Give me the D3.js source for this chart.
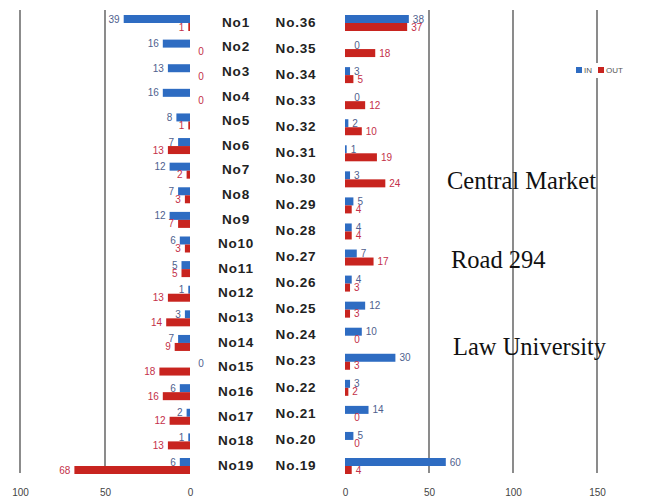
<!DOCTYPE html>
<html>
<head>
<meta charset="utf-8">
<script src="https://cdn.jsdelivr.net/npm/d3@7"></script>
<style>
  html, body { margin: 0; padding: 0; background: #fff; }
  svg { display: block; }
</style>
</head>
<body>
<svg id="chart" width="653" height="502"></svg>
<script>
// ---- data ----
const leftCats = ["No1","No2","No3","No4","No5","No6","No7","No8","No9","No10","No11","No12","No13","No14","No15","No16","No17","No18","No19"];
const leftIn  = [39,16,13,16,8,7,12,7,12,6,5,1,3,7,0,6,2,1,6];
const leftOut = [1,0,0,0,1,13,2,3,7,3,5,13,14,9,18,16,12,13,68];

const rightCats = ["No.36","No.35","No.34","No.33","No.32","No.31","No.30","No.29","No.28","No.27","No.26","No.25","No.24","No.23","No.22","No.21","No.20","No.19"];
const rightIn  = [38,0,3,0,2,1,3,5,4,7,4,12,10,30,3,14,5,60];
const rightOut = [37,18,5,12,10,19,24,4,4,17,3,3,0,3,2,0,0,4];

const leftTicks = [100, 50, 0];
const rightTicks = [0, 50, 100, 150];
const leftGrid = [100, 50];
const rightGrid = [50, 100, 150];

const seriesNames = ["IN", "OUT"];
const annotations = ["Central Market", "Road 294", "Law University"];

// ---- styles ----
const BLUE = "#2e6cc2", RED = "#c8241f";
const BLUE_LBL = "#4f5f8e", RED_LBL = "#c4304a";
const sans = "'Liberation Sans', Arial, sans-serif";

const svg = d3.select("#chart");

const xL = d3.scaleLinear().domain([0, 100]).range([190, 20]);
const xR = d3.scaleLinear().domain([0, 150]).range([345, 597]);

// row center of first row = 23, last row = 466
function bandFor(cats) {
  const n = cats.length;
  const step = (466 - 23) / (n - 1);
  return d3.scaleBand().domain(cats).range([23 - step / 2, 466 + step / 2]).padding(0);
}
const yL = bandFor(leftCats);
const yR = bandFor(rightCats);
const barH = 8;

const gridTop = 10, gridBottom = 473;

// gridlines
const grid = svg.append("g");
grid.selectAll("line.l").data(leftGrid).join("line")
  .attr("x1", d => xL(d)).attr("x2", d => xL(d))
  .attr("y1", gridTop).attr("y2", gridBottom)
  .attr("stroke", "#6f6f6f").attr("stroke-width", 1.6);
grid.selectAll("line.r").data(rightGrid).join("line")
  .attr("x1", d => xR(d)).attr("x2", d => xR(d))
  .attr("y1", gridTop).attr("y2", gridBottom)
  .attr("stroke", "#6f6f6f").attr("stroke-width", 1.6);

// axes tick labels
const axL = d3.axisBottom(xL).tickValues(leftTicks).tickSize(0).tickPadding(0);
const axR = d3.axisBottom(xR).tickValues(rightTicks).tickSize(0).tickPadding(0);
function styleAxis(g) {
  g.select(".domain").remove();
  g.selectAll("text").attr("font-family", sans)
    .attr("font-size", 10).attr("fill", "#444").attr("dy", 0);
}
svg.append("g").attr("transform", "translate(0,496)").call(axL).call(styleAxis);
svg.append("g").attr("transform", "translate(0,496)").call(axR).call(styleAxis);

// bars + labels
function drawPanel(x, y, cats, inVals, outVals, left) {
  const g = svg.append("g");
  const x0 = x(0);
  const yc = i => y(cats[i]) + y.bandwidth() / 2;
  inVals.forEach((v, i) => {
    g.append("rect")
      .attr("x", Math.min(x0, x(v))).attr("width", Math.abs(x(v) - x0))
      .attr("y", yc(i) - barH).attr("height", barH).attr("fill", BLUE);
  });
  outVals.forEach((v, i) => {
    g.append("rect")
      .attr("x", Math.min(x0, x(v))).attr("width", Math.abs(x(v) - x0))
      .attr("y", yc(i)).attr("height", barH).attr("fill", RED);
  });
  const lbl = (v, i, isIn) => {
    const t = g.append("text")
      .attr("font-family", sans)
      .attr("font-size", 10)
      .attr("fill", isIn ? BLUE_LBL : RED_LBL)
      .attr("y", isIn ? yc(i) - 4 : yc(i) + 4)
      .attr("dy", "0.35em")
      .text(v);
    if (v === 0) {
      t.attr("x", x0 + (left ? 11 : 12)).attr("text-anchor", "middle");
    } else if (left) {
      t.attr("x", x(v) - 4).attr("text-anchor", "end");
    } else {
      t.attr("x", x(v) + 4).attr("text-anchor", "start");
    }
  };
  inVals.forEach((v, i) => lbl(v, i, true));
  outVals.forEach((v, i) => lbl(v, i, false));

  // category labels
  g.selectAll("text.cat").data(cats).join("text")
    .attr("class", "cat")
    .attr("x", left ? 236 : 296)
    .attr("y", d => y(d) + y.bandwidth() / 2 - 1).attr("dy", "0.35em")
    .attr("text-anchor", "middle").attr("font-family", sans)
    .attr("font-weight", "bold").attr("font-size", 13.5)
    .attr("letter-spacing", 0.8).attr("fill", "#222")
    .text(d => d);
}
drawPanel(xL, yL, leftCats, leftIn, leftOut, true);
drawPanel(xR, yR, rightCats, rightIn, rightOut, false);

// legend
const lg = svg.append("g");
lg.append("rect").attr("x", 572).attr("y", 63).attr("width", 81).attr("height", 15).attr("fill", "#fff");
const lgColors = [BLUE, RED];
const lgX = [576, 598];
seriesNames.forEach((n, k) => {
  lg.append("rect").attr("x", lgX[k]).attr("y", 67).attr("width", 6).attr("height", 6).attr("fill", lgColors[k]);
  lg.append("text").attr("x", lgX[k] + 8).attr("y", 70).attr("dy", "0.35em")
    .attr("font-family", sans).attr("font-size", 8).attr("fill", "#555").text(n);
});

// annotations
const annPos = [[447, 189], [451, 268], [453, 355]];
svg.append("g").selectAll("text").data(annotations).join("text")
  .attr("x", (d, k) => annPos[k][0])
  .attr("y", (d, k) => annPos[k][1])
  .attr("font-family", "'Liberation Serif', 'Times New Roman', serif")
  .attr("font-size", 24.5).attr("fill", "#111")
  .text(d => d);
</script>
</body>
</html>
